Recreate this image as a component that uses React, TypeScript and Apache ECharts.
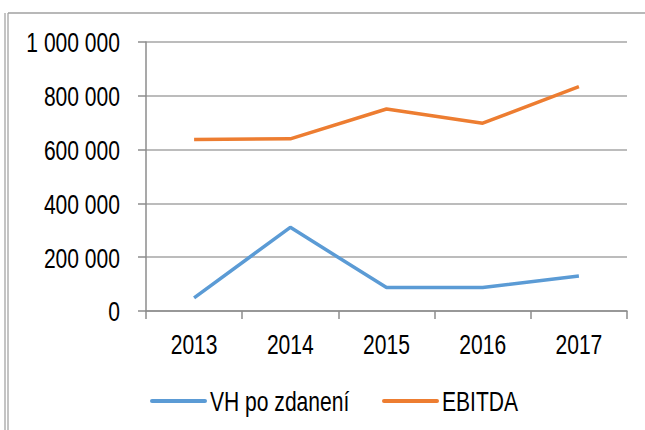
import React, { useEffect, useRef } from "react";
import * as echarts from "echarts";

const years = ["2013", "2014", "2015", "2016", "2017"];
const vhPoZdaneni = [49000, 311000, 87000, 87000, 130000];
const ebitda = [638000, 640000, 751000, 698000, 834000];
const seriesNames = ["VH po zdanení", "EBITDA"];
const seriesColors = ["#5B9BD5", "#ED7D31"];
const yTicks = [0, 200000, 400000, 600000, 800000, 1000000];

const FONT = "'Liberation Sans', Arial, sans-serif";
const FS = 27;
const SX = 0.78;

const fmt = (v: number) => v.toString().replace(/\B(?=(\d{3})+(?!\d))/g, " ");

export default function App() {
  const ref = useRef<HTMLDivElement>(null);
  useEffect(() => {
    const chart = echarts.init(ref.current!, null, { renderer: "svg" });
    chart.setOption({
      animation: false,
      backgroundColor: "#ffffff",
      grid: { left: 146, right: 18, top: 42, bottom: 119, containLabel: false },
      xAxis: {
        type: "category",
        data: years,
        boundaryGap: true,
        axisLine: { lineStyle: { color: "#8c8c8c", width: 1.5 } },
        axisTick: { show: true, length: 8, lineStyle: { color: "#8c8c8c", width: 1.5 } },
        axisLabel: { show: false },
      },
      yAxis: {
        type: "value",
        min: 0,
        max: 1000000,
        interval: 200000,
        axisLine: { show: true, lineStyle: { color: "#8c8c8c", width: 1.5 } },
        axisTick: { show: true, length: 8, lineStyle: { color: "#8c8c8c", width: 1.5 } },
        splitLine: { lineStyle: { color: "#a6a6a6", width: 1.5 } },
        axisLabel: { show: false },
      },
      legend: { show: false, data: seriesNames },
      series: [
        {
          name: seriesNames[0],
          type: "line",
          data: vhPoZdaneni,
          symbol: "none",
          color: seriesColors[0],
          lineStyle: { width: 3.5, color: seriesColors[0] },
        },
        {
          name: seriesNames[1],
          type: "line",
          data: ebitda,
          symbol: "none",
          color: seriesColors[1],
          lineStyle: { width: 3.5, color: seriesColors[1] },
        },
      ],
    });

    const textStyle = (text: string, align: string) => ({
      text,
      fill: "#000",
      font: `${FS}px ${FONT}`,
      align,
      verticalAlign: "middle",
    });

    const els: any[] = [
      { type: "line", shape: { x1: 5, y1: 13, x2: 5, y2: 430 }, style: { stroke: "#b0b0b0", lineWidth: 1.5 } },
      { type: "line", shape: { x1: 8, y1: 13, x2: 8, y2: 430 }, style: { stroke: "#b0b0b0", lineWidth: 1.5 } },
      { type: "line", shape: { x1: 8, y1: 13, x2: 645, y2: 13 }, style: { stroke: "#a0a0a0", lineWidth: 1.5 } },
    ];

    // y-axis labels, positioned through the value scale
    yTicks.forEach((v) => {
      const p = chart.convertToPixel({ gridIndex: 0 }, [years[0], v]) as number[];
      els.push({
        type: "text",
        x: 120,
        y: p[1] + 1,
        scaleX: SX,
        style: textStyle(fmt(v), "right"),
      });
    });

    // x-axis labels, positioned through the category scale
    years.forEach((c) => {
      const p = chart.convertToPixel({ gridIndex: 0 }, [c, 0]) as number[];
      els.push({
        type: "text",
        x: p[0],
        y: 345,
        scaleX: SX,
        style: textStyle(c, "center"),
      });
    });

    // legend
    const legendY = 401;
    const legendItems = [
      { x: 152, name: seriesNames[0], color: seriesColors[0] },
      { x: 384, name: seriesNames[1], color: seriesColors[1] },
    ];
    legendItems.forEach((it) => {
      els.push({
        type: "line",
        shape: { x1: it.x, y1: legendY, x2: it.x + 53, y2: legendY },
        style: { stroke: it.color, lineWidth: 4, lineCap: "round" },
      });
      els.push({
        type: "text",
        x: it.x + 58,
        y: legendY + 1,
        scaleX: SX,
        style: textStyle(it.name, "left"),
      });
    });

    chart.setOption({ graphic: els });
    return () => chart.dispose();
  }, []);
  return <div ref={ref} style={{ width: 645, height: 430, position: "fixed", left: 0, top: 0 }} />;
}
